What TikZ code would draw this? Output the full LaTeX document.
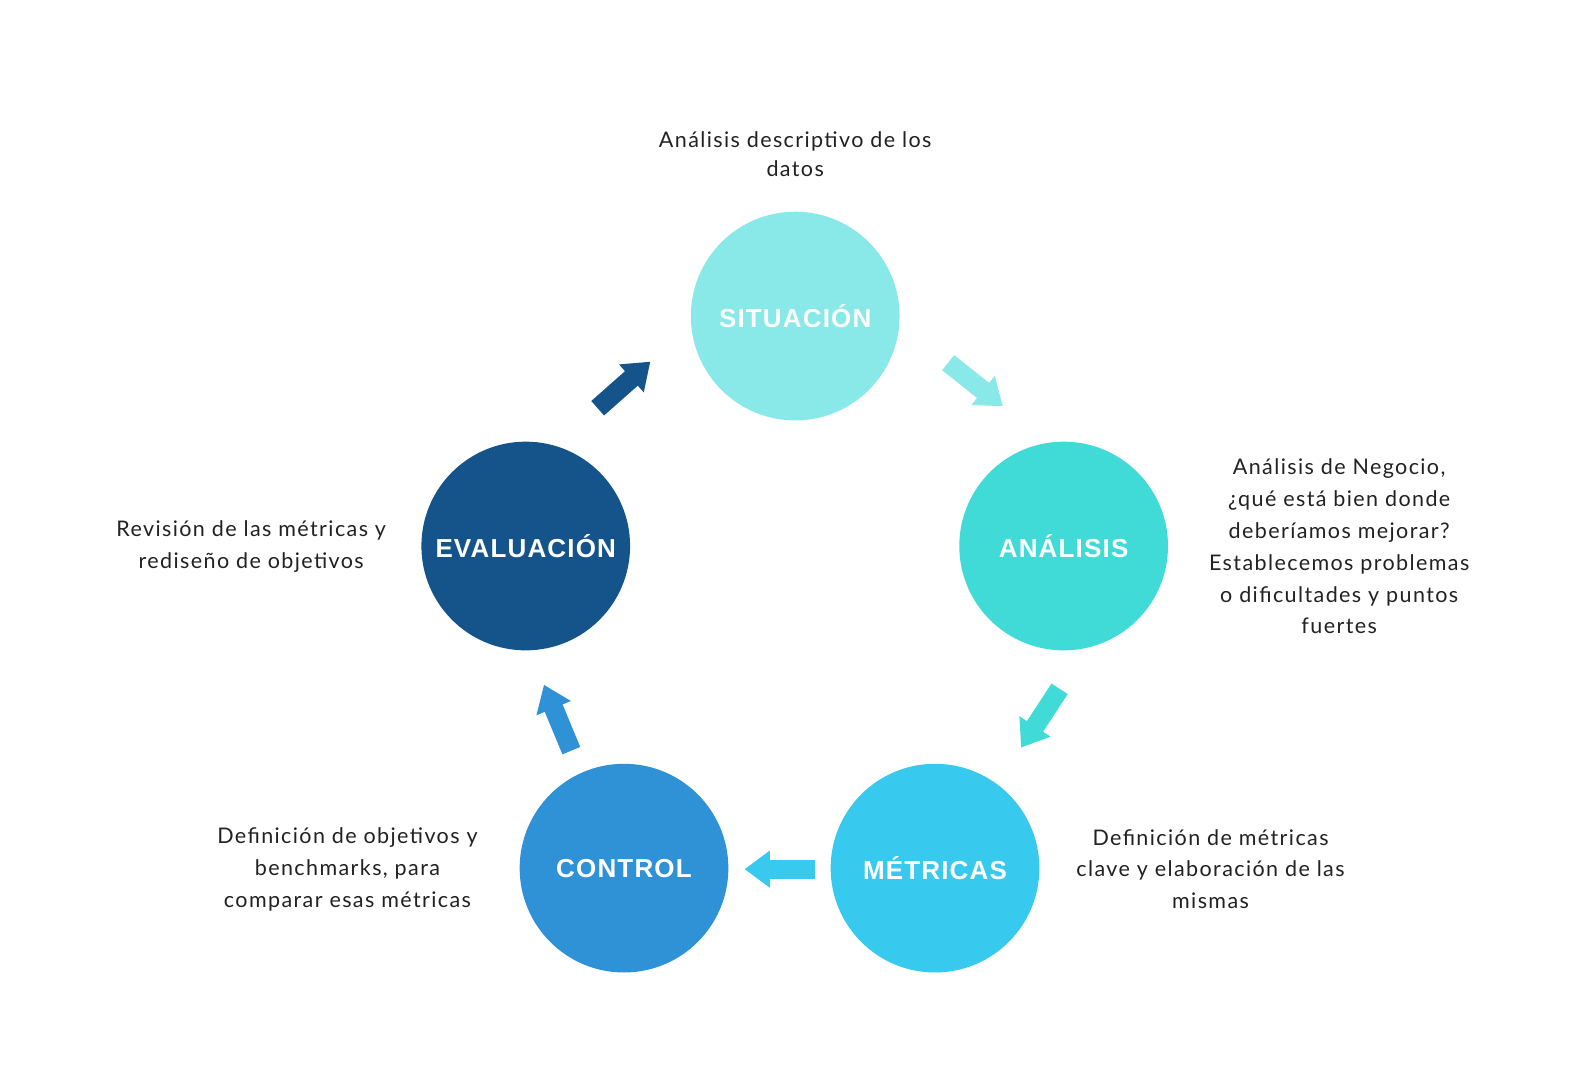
\documentclass[tikz,border=0pt]{standalone}
\usepackage{fontspec}
\usetikzlibrary{arrows.meta}
\newfontfamily\bodyfont[LetterSpace=6.5]{Lato}
\newfontfamily\titlefont[LetterSpace=4.5]{Liberation Sans}
\definecolor{csit}{HTML}{88E9E8}
\definecolor{cana}{HTML}{40DAD7}
\definecolor{cmet}{HTML}{38C9EF}
\definecolor{ccon}{HTML}{2F92D6}
\definecolor{ceva}{HTML}{15548A}
\definecolor{ctxt}{HTML}{222222}
\begin{document}
\begin{tikzpicture}[x=1.013pt,y=-1.013pt,
  circ/.style={circle,minimum size=208.7pt,inner sep=0pt,text=white,
    font=\titlefont\bfseries\fontsize{26}{30}\selectfont},
  desc/.style={align=center,text=ctxt,inner sep=0pt,
    font=\bodyfont\fontsize{21.5}{31.8}\selectfont},
  blockarrow/.style={line width=19.3pt,-{Triangle[length=25.3pt,width=35.5pt]}}]
\useasboundingbox[fill=white] (0,0) rectangle (1564.67,1066.14);
\node[circ,fill=csit] (sit) at (785,312) {SITUACIÓN};
\node[circ,fill=cana] (ana) at (1050,539) {ANÁLISIS};
\node[circ,fill=cmet] (met) at (923,857) {MÉTRICAS};
\node[circ,fill=ccon] (con) at (616,857) {CONTROL};
\node[circ,fill=ceva] (eva) at (519,539) {EVALUACIÓN};
\node[desc,font=\bodyfont\fontsize{21.5}{29.4}\selectfont] (tsit) at (785,152) {Análisis descriptivo de los\\datos};
\node[desc] (tana) at (1322,539.5) {Análisis de Negocio,\\¿qué está bien donde\\deberíamos mejorar?\\Establecemos problemas\\o dificultades y puntos\\fuertes};
\node[desc] (teva) at (248,539.5) {Revisión de las métricas y\\rediseño de objetivos};
\node[desc] (tcon) at (343,858) {Definición de objetivos y\\benchmarks, para\\comparar esas métricas};
\node[desc] (tmet) at (1195,858) {Definición de métricas\\clave y elaboración de las\\mismas};
\coordinate (a1s) at (590,403); \coordinate (a1e) at (642,357);
\coordinate (a2s) at (936,358); \coordinate (a2e) at (990,401);
\coordinate (a3s) at (1046,680); \coordinate (a3e) at (1008,738);
\coordinate (a4s) at (805,858); \coordinate (a4e) at (735,858);
\coordinate (a5s) at (564,741); \coordinate (a5e) at (537,676);
\draw[blockarrow,ceva] (a1s) -- (a1e);
\draw[blockarrow,csit] (a2s) -- (a2e);
\draw[blockarrow,cana] (a3s) -- (a3e);
\draw[blockarrow,cmet] (a4s) -- (a4e);
\draw[blockarrow,ccon] (a5s) -- (a5e);
\end{tikzpicture}
\end{document}
